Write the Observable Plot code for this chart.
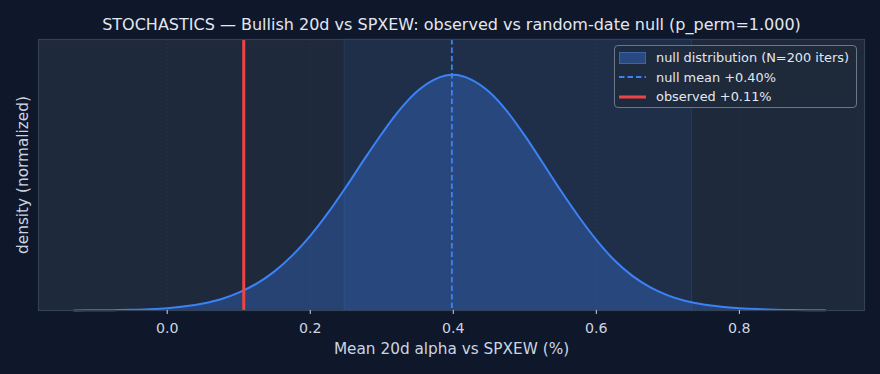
<!DOCTYPE html>
<html>
<head>
<meta charset="utf-8">
<script src="https://cdn.jsdelivr.net/npm/d3@7"></script>
<script src="https://cdn.jsdelivr.net/npm/@observablehq/plot@0.6"></script>
<style>
  html, body { margin: 0; padding: 0; background: #0f172a; }
  #wrap { position: relative; width: 880px; height: 374px; font-family: "DejaVu Sans", sans-serif; }
  #legend { position: absolute; left: 614px; top: 45px; width: 243px; height: 63px;
    border: 1.3px solid #6b7789; border-radius: 4px; background: rgba(30,41,59,0.85);
    box-sizing: border-box; padding: 2px 0 0 4px; color: #e2e8f0; font-size: 12.9px; }
  .row { display: flex; align-items: center; height: 19.5px; }
  .key { width: 27px; height: 12px; margin-right: 10px; display: block; }
</style>
</head>
<body>
<div id="wrap"></div>
<script>
const title = "STOCHASTICS \u2014 Bullish 20d vs SPXEW: observed vs random-date null (p_perm=1.000)";
const xLabel = "Mean 20d alpha vs SPXEW (%)";
const yLabel = "density (normalized)";
const legendLabels = ["null distribution (N=200 iters)", "null mean +0.40%", "observed +0.11%"];

// KDE curve of the null distribution (normalized density)
const alphaX = [-0.13, -0.10, -0.075, -0.05, -0.025, 0.0, 0.025, 0.05, 0.075, 0.10, 0.125, 0.15, 0.175, 0.20, 0.225, 0.25, 0.275, 0.30, 0.325, 0.35, 0.375, 0.40,
  0.425, 0.45, 0.475, 0.50, 0.525, 0.55, 0.575, 0.60, 0.625, 0.65, 0.675, 0.70, 0.725, 0.75, 0.775, 0.80, 0.825, 0.85, 0.875, 0.90, 0.92];
const densityY = [0.0003, 0.0008, 0.0015, 0.003, 0.0056, 0.010, 0.018, 0.030, 0.048, 0.076, 0.114, 0.166, 0.234, 0.317, 0.415, 0.524, 0.639, 0.750, 0.851, 0.931, 0.982, 1.0,
  0.980, 0.928, 0.846, 0.742, 0.627, 0.510, 0.400, 0.300, 0.214, 0.148, 0.099, 0.064, 0.040, 0.025, 0.016, 0.010, 0.006, 0.0035, 0.002, 0.0011, 0.0007];

const nullMean = 0.398;
const observed = 0.107;
const bandLo = 0.248;   // null 2.5th percentile
const bandHi = 0.734;   // null 97.5th percentile
const xTicks = [0.0, 0.2, 0.4, 0.6, 0.8];
const xDomain = [-0.18, 0.975];
const yDomain = [0, 1.15];

const density = alphaX.map((x, i) => ({x, y: densityY[i]}));

const chart = Plot.plot({
  width: 880,
  height: 374,
  marginLeft: 38,
  marginRight: 16,
  marginTop: 39,
  marginBottom: 64,
  style: {background: "transparent", color: "#cbd5e1", fontFamily: "DejaVu Sans, sans-serif", fontSize: "14.2px", overflow: "visible"},
  x: {domain: xDomain},
  y: {domain: yDomain, axis: null},
  marks: [
    Plot.frame({fill: "#1e293b"}),
    Plot.rectX([{lo: bandLo, hi: bandHi}], {x1: "lo", x2: "hi", fill: "#3b82f6", fillOpacity: 0.08, stroke: "#3b82f6", strokeOpacity: 0.18, strokeWidth: 1}),
    Plot.gridX(xTicks, {stroke: "#475569", strokeOpacity: 0.3, strokeDasharray: "1.5,2.5"}),
    Plot.areaY(density, {x: "x", y: "y", fill: "#3b82f6", fillOpacity: 0.3, curve: "monotone-x"}),
    Plot.lineY(density, {x: "x", y: "y", stroke: "#3b82f6", strokeWidth: 2, curve: "monotone-x"}),
    Plot.ruleX([nullMean], {stroke: "#3b82f6", strokeWidth: 1.8, strokeDasharray: "5.5,3"}),
    Plot.ruleX([observed], {stroke: "#ef4444", strokeWidth: 3}),
    Plot.frame({stroke: "#334155", strokeWidth: 1.2}),
    Plot.axisX(xTicks, {tickFormat: d3.format(".1f"), tickSize: 4, tickPadding: 8, stroke: "#cbd5e1", fill: "#cbd5e1",
      fontSize: 14.2, label: null}),
    Plot.text([xLabel], {frameAnchor: "bottom", lineAnchor: "middle", dy: 39, fill: "#cbd5e1", fontSize: 15.3}),
    Plot.text([yLabel], {frameAnchor: "left", dx: -15.5, rotate: -90, textAnchor: "middle", fill: "#cbd5e1", fontSize: 15.3}),
    Plot.text([title], {frameAnchor: "top", lineAnchor: "middle", dy: -14.5, fill: "#e2e8f0", fontSize: 16})
  ]
});

const wrap = document.getElementById("wrap");
wrap.appendChild(chart);

const legend = document.createElement("div");
legend.id = "legend";
const keys = [
  '<svg class="key" width="27" height="12"><rect x="0.5" y="0.5" width="26" height="11" fill="#284a80" stroke="#3a65a8" stroke-width="1"/></svg>',
  '<svg class="key" width="27" height="12"><line x1="0" x2="27" y1="6" y2="6" stroke="#3b82f6" stroke-width="1.8" stroke-dasharray="5.5,3"/></svg>',
  '<svg class="key" width="27" height="12"><line x1="0" x2="27" y1="6" y2="6" stroke="#ef4444" stroke-width="3"/></svg>'
];
legend.innerHTML = legendLabels.map((t, i) => `<div class="row">${keys[i]}<span>${t}</span></div>`).join("");
wrap.appendChild(legend);
</script>
</body>
</html>
